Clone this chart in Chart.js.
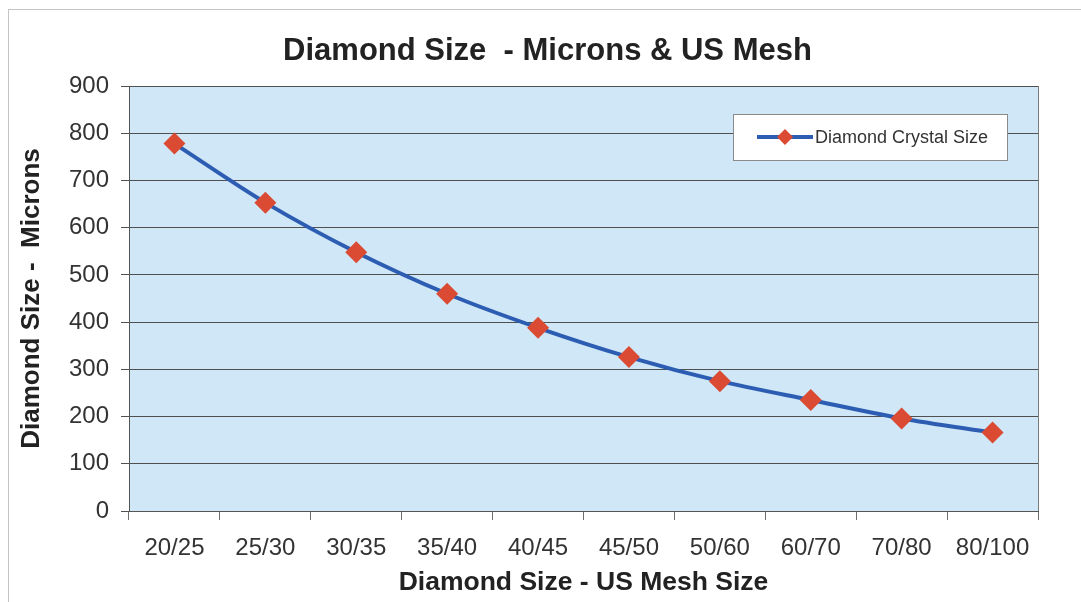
<!DOCTYPE html>
<html>
<head>
<meta charset="utf-8">
<script src="https://cdn.jsdelivr.net/npm/chart.js@4.4.1/dist/chart.umd.min.js"></script>
<style>
  html, body { margin: 0; padding: 0; background: #ffffff; }
  #wrap { width: 1081px; height: 602px; position: relative; }
</style>
</head>
<body>
<div id="wrap"><canvas id="c" width="1081" height="602"></canvas></div>
<script>
// Mesh size ranges and average crystal size in microns
const meshSizes = ['20/25', '25/30', '30/35', '35/40', '40/45', '45/50', '50/60', '60/70', '70/80', '80/100'];
const crystalMicrons = [778, 653, 548, 460, 388, 326, 275, 235, 196, 166];
const seriesName = 'Diamond Crystal Size';
const chartTitle = 'Diamond Size  - Microns & US Mesh';
const xAxisTitle = 'Diamond Size - US Mesh Size';
const yAxisTitle = 'Diamond Size -  Microns';
const yMin = 0, yMax = 900, yStep = 100;

const FONT = '"Liberation Sans", Arial, Helvetica, sans-serif';
const LINE_BLUE = '#2d5db3';
const MARKER_RED = '#db4b33';

// Plot backdrop, outer frame, heading and right edge of the plot box
const framePlugin = {
  id: 'frame',
  beforeDraw(chart) {
    const { ctx, chartArea: a } = chart;
    ctx.save();
    ctx.fillStyle = '#ffffff';
    ctx.fillRect(0, 0, chart.width, chart.height);
    ctx.strokeStyle = '#c4c4c4';
    ctx.lineWidth = 1;
    ctx.strokeRect(8.5, 9.5, chart.width + 20, chart.height + 20);
    ctx.fillStyle = '#cfe7f6';
    ctx.fillRect(a.left, a.top, a.right - a.left, a.bottom - a.top);
    // heading, centred a little right of the canvas middle
    ctx.fillStyle = '#222222';
    ctx.font = 'bold 31px ' + FONT;
    ctx.textAlign = 'center';
    ctx.textBaseline = 'middle';
    ctx.fillText(chartTitle, (a.left + a.right) / 2 - 36, 51);
    ctx.restore();
  },
  afterDatasetsDraw(chart) {
    const { ctx, chartArea: a } = chart;
    ctx.save();
    ctx.strokeStyle = '#7a7a7a';
    ctx.lineWidth = 1;
    ctx.beginPath();
    ctx.moveTo(Math.round(a.right) + 0.5, a.top);
    ctx.lineTo(Math.round(a.right) + 0.5, a.bottom);
    ctx.stroke();
    ctx.restore();
  }
};

// Boxed legend sitting inside the upper right of the plot
const insetLegend = {
  id: 'insetLegend',
  afterDraw(chart) {
    const { ctx, chartArea: a } = chart;
    const ds = chart.data.datasets[0];
    const w = 274, h = 46;
    const x = a.right - 31 - w, y = a.top + 28;
    ctx.save();
    ctx.fillStyle = '#ffffff';
    ctx.fillRect(x, y, w, h);
    ctx.strokeStyle = '#8a8a8a';
    ctx.lineWidth = 1;
    ctx.strokeRect(x + 0.5, y + 0.5, w, h);
    const cy = y + h / 2;
    ctx.strokeStyle = ds.borderColor;
    ctx.lineWidth = 4;
    ctx.beginPath();
    ctx.moveTo(x + 24, cy);
    ctx.lineTo(x + 80, cy);
    ctx.stroke();
    const mx = x + 52, r = 8;
    ctx.fillStyle = ds.pointBackgroundColor;
    ctx.beginPath();
    ctx.moveTo(mx, cy - r);
    ctx.lineTo(mx + r, cy);
    ctx.lineTo(mx, cy + r);
    ctx.lineTo(mx - r, cy);
    ctx.closePath();
    ctx.fill();
    ctx.fillStyle = '#333333';
    ctx.font = '18px ' + FONT;
    ctx.textBaseline = 'middle';
    ctx.textAlign = 'left';
    ctx.fillText(ds.label, x + 82, cy + 1);
    ctx.restore();
  }
};

new Chart(document.getElementById('c'), {
  type: 'line',
  data: {
    labels: meshSizes,
    datasets: [{
      label: seriesName,
      data: crystalMicrons,
      borderColor: LINE_BLUE,
      borderWidth: 4,
      tension: 0.3,
      pointStyle: 'rectRot',
      pointRadius: 11,
      pointHoverRadius: 11,
      pointBackgroundColor: MARKER_RED,
      pointBorderColor: MARKER_RED,
      pointBorderWidth: 0,
      fill: false
    }]
  },
  options: {
    responsive: false,
    animation: false,
    devicePixelRatio: 1,
    layout: { padding: { left: 0, right: 43, top: 86, bottom: 0 } },
    plugins: {
      legend: { display: false },
      tooltip: { enabled: false },
      title: { display: false }
    },
    scales: {
      x: {
        type: 'category',
        offset: true,
        afterFit(s) { s.height = 91; },
        grid: {
          offset: true,
          drawOnChartArea: false,
          drawTicks: true,
          tickLength: 9,
          color: '#6e6e6e'
        },
        border: { display: true, color: '#555555', width: 1 },
        ticks: {
          color: '#333333',
          padding: 14,
          maxRotation: 0,
          autoSkip: false,
          font: { family: FONT, size: 24 }
        },
        title: {
          display: true,
          text: xAxisTitle,
          color: '#222222',
          font: { family: FONT, size: 26.5, weight: 'bold', lineHeight: 1.2 },
          padding: { top: 0, bottom: 3 }
        }
      },
      y: {
        min: yMin,
        max: yMax,
        afterFit(s) { s.width = 129; },
        grid: {
          drawOnChartArea: true,
          drawTicks: true,
          tickLength: 8,
          color: '#505050',
          lineWidth: 1
        },
        border: { display: true, color: '#555555', width: 1 },
        ticks: {
          stepSize: yStep,
          color: '#333333',
          padding: 12,
          font: { family: FONT, size: 24 }
        },
        title: {
          display: true,
          text: yAxisTitle,
          color: '#222222',
          font: { family: FONT, size: 26, weight: 'bold', lineHeight: 1.2 },
          padding: { top: 16, bottom: 0 }
        }
      }
    }
  },
  plugins: [framePlugin, insetLegend]
});
</script>
</body>
</html>
